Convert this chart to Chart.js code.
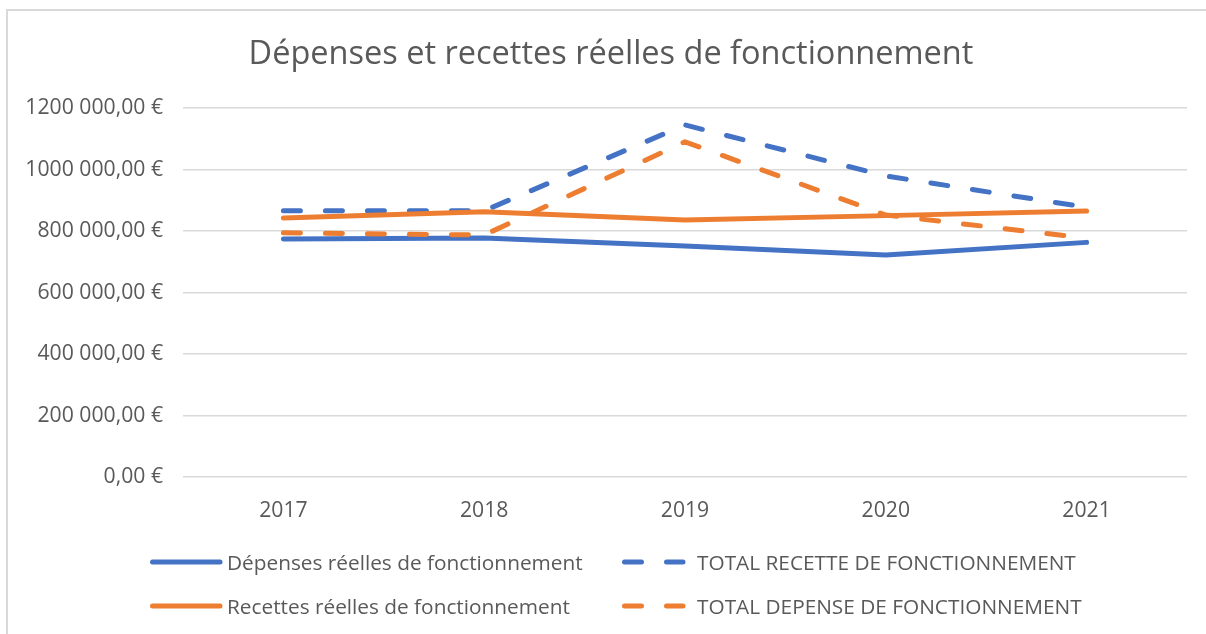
<!DOCTYPE html>
<html>
<head>
<meta charset="utf-8">
<script src="https://cdn.jsdelivr.net/npm/chart.js@4/dist/chart.umd.min.js"></script>
<style>
  html, body { margin: 0; padding: 0; background: #fff; }
  #wrap { position: relative; width: 1206px; height: 634px; overflow: hidden; }
  #frame { position: absolute; left: 6px; top: 9px; width: 1300px; height: 700px; border-left: 2px solid #d9d9d9; border-top: 2px solid #d9d9d9; }
  canvas { position: absolute; left: 0; top: 0; }
</style>
</head>
<body>
<div id="wrap">
  <div id="frame"></div>
  <canvas id="c" width="1206" height="634"></canvas>
</div>
<script>
const chartTitle = 'Dépenses et recettes réelles de fonctionnement';
const years = ['2017', '2018', '2019', '2020', '2021'];
const depensesReelles = [774000, 777000, 751000, 722000, 763000];
const totalRecette = [866000, 866000, 1145000, 979000, 877000];
const recettesReelles = [842000, 863000, 836000, 850000, 865000];
const totalDepense = [794000, 787000, 1090000, 852000, 777000];
const seriesNames = ['Dépenses réelles de fonctionnement', 'TOTAL RECETTE DE FONCTIONNEMENT', 'Recettes réelles de fonctionnement', 'TOTAL DEPENSE DE FONCTIONNEMENT'];
const yTickValues = [0, 200000, 400000, 600000, 800000, 1000000, 1200000];
const yTickLabels = ['0,00 €', '200 000,00 €', '400 000,00 €', '600 000,00 €', '800 000,00 €', '1000 000,00 €', '1200 000,00 €'];

const BLUE = '#4472C4', ORANGE = '#ED7D31', TXT = '#595959';
const FAMILY = '"Open Sans"';
const FONT = FAMILY + ', sans-serif';
const DASH = [17, 25];

// size fonts so text widths match the reference
const mctx = document.createElement('canvas').getContext('2d');
function fit(text, target) {
  mctx.font = '100px ' + FONT;
  return Math.round(100 * target / mctx.measureText(text).width * 10) / 10;
}
const titleSize = fit(chartTitle, 724);
const legendSize = fit(seriesNames[0], 356);
const tickSize = fit(yTickLabels[6], 138);

function ds(label, data, color, dashed, order) {
  return {
    label, data, borderColor: color, backgroundColor: color,
    borderWidth: 5, borderDash: dashed ? DASH : [], borderCapStyle: 'round', borderJoinStyle: 'round',
    pointRadius: 0, pointHoverRadius: 0, tension: 0, fill: false, order
  };
}

const decor = {
  id: 'decor',
  afterDraw(chart) {
    const ctx = chart.ctx;
    ctx.save();
    ctx.fillStyle = TXT;
    ctx.font = titleSize + 'px ' + FONT;
    ctx.textAlign = 'center';
    ctx.textBaseline = 'middle';
    ctx.fillText(chartTitle, 611, 55);
    const items = chart.data.datasets;
    const pos = [[150, 562], [622, 562], [150, 606], [622, 606]];
    ctx.font = legendSize + 'px ' + FONT;
    ctx.textAlign = 'left';
    items.forEach((d, i) => {
      const [x, y] = pos[i];
      const dashed = d.borderDash.length > 0;
      ctx.beginPath();
      ctx.strokeStyle = d.borderColor;
      ctx.lineWidth = 5;
      ctx.lineCap = 'round';
      ctx.setLineDash(dashed ? DASH : []);
      ctx.moveTo(x + 2.5, y);
      ctx.lineTo(dashed ? x + 61 : x + 70, y);
      ctx.stroke();
      ctx.setLineDash([]);
      ctx.fillStyle = TXT;
      ctx.fillText(d.label, dashed ? x + 75 : x + 77, y + 2);
    });
    ctx.restore();
  }
};

new Chart(document.getElementById('c'), {
  type: 'line',
  data: {
    labels: years,
    datasets: [
      ds(seriesNames[0], depensesReelles, BLUE, false, 4),
      ds(seriesNames[1], totalRecette, BLUE, true, 3),
      ds(seriesNames[2], recettesReelles, ORANGE, false, 2),
      ds(seriesNames[3], totalDepense, ORANGE, true, 1)
    ]
  },
  options: {
    responsive: false,
    animation: false,
    events: [],
    layout: { padding: { left: 0, top: 108, right: 19, bottom: 100 } },
    plugins: { legend: { display: false }, title: { display: false }, tooltip: { enabled: false } },
    scales: {
      x: {
        offset: true,
        grid: { display: false, drawTicks: false },
        border: { display: false },
        ticks: { color: TXT, font: { family: FAMILY, size: tickSize }, padding: 21, maxRotation: 0 },
        afterFit(s) { s.height = 57; }
      },
      y: {
        min: 0, max: 1200000,
        afterBuildTicks(s) { s.ticks = yTickValues.map(v => ({ value: v })); },
        grid: { color: '#d9d9d9', lineWidth: 1.5, drawTicks: false },
        border: { display: false },
        ticks: {
          color: TXT, font: { family: FAMILY, size: tickSize }, padding: 20,
          callback(v) { const i = yTickValues.indexOf(v); return i >= 0 ? yTickLabels[i] : ''; }
        },
        afterFit(s) { s.width = 183; }
      }
    }
  },
  plugins: [decor]
});
</script>
</body>
</html>
